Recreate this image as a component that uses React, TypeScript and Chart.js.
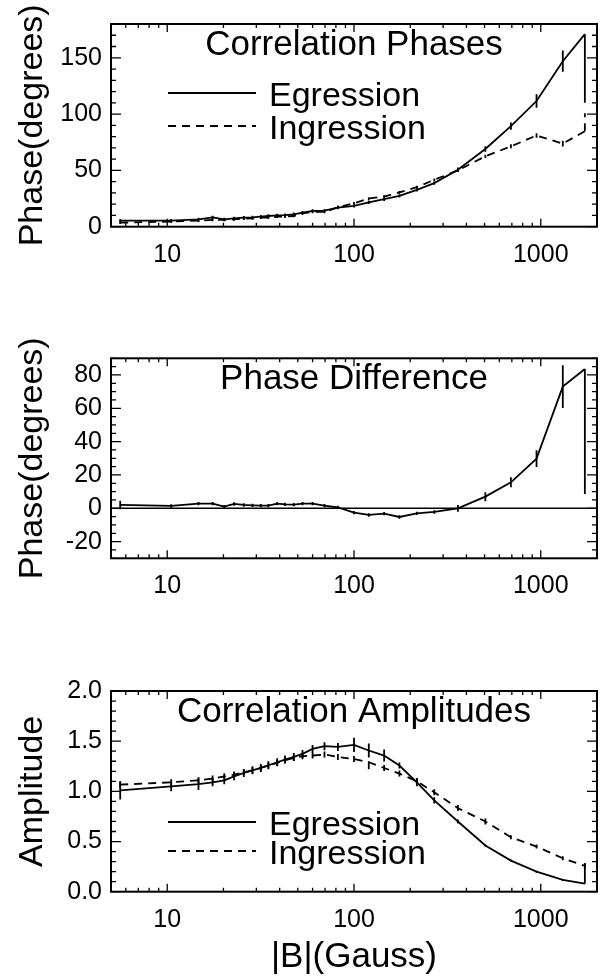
import React, { useEffect, useRef } from "react";
import { Chart, registerables } from "chart.js";

Chart.register(...registerables);

// ---------------- data ----------------
// |B| bin centres (Gauss)
const fieldStrength = [5.6, 10.5, 14.7, 17.5, 20.2, 22.8, 25.7, 28.6, 31.7, 34.8, 38.8, 42.7, 47.6, 53, 60, 69.5, 82, 100, 120, 145, 175, 217, 269, 360, 505, 692, 949, 1312, 1722];

// Correlation phases (degrees)
const phaseEgression = [5.4, 5.4, 6.5, 8.3, 6.5, 7.4, 8, 8.3, 8.9, 9.5, 10.1, 10.3, 11, 12.5, 14, 14.3, 17, 18.5, 21.7, 24.4, 27.4, 32.7, 38.7, 50.6, 69, 89.3, 111.6, 147, 171];
const phaseEgressionErrLo = [1.5, 1.5, 1.5, 1.5, 1.5, 1.5, 1.5, 1.5, 1.5, 1.5, 1.5, 1.5, 1.5, 1.5, 1.5, 1.5, 1.5, 1.5, 1.5, 1.5, 1.5, 1.5, 1.5, 2, 2.5, 3.3, 6, 9.5, 61];
const phaseEgressionErrHi = [1.5, 1.5, 1.5, 1.5, 1.5, 1.5, 1.5, 1.5, 1.5, 1.5, 1.5, 1.5, 1.5, 1.5, 1.5, 1.5, 1.5, 1.5, 1.5, 1.5, 1.5, 1.5, 1.5, 2, 2.5, 3.3, 6, 9.5, 0];
const phaseIngression = [3.6, 4.5, 5.4, 6, 6, 6.5, 7.1, 7.4, 8, 8, 8.9, 8.9, 9.5, 11.9, 13.1, 13.1, 17.3, 20.8, 25, 26.8, 30.4, 35.1, 41.7, 50, 62.5, 71.4, 81, 73.8, 84.8];
const phaseIngressionErrLo = [1.2, 1.2, 1.2, 1.2, 1.2, 1.2, 1.2, 1.2, 1.2, 1.2, 1.2, 1.2, 1.2, 1.2, 1.2, 1.2, 1.2, 1.2, 1.2, 1.2, 1.2, 1.2, 1.2, 1.2, 1.5, 1.8, 2, 2.5, 0];
const phaseIngressionErrHi = [1.2, 1.2, 1.2, 1.2, 1.2, 1.2, 1.2, 1.2, 1.2, 1.2, 1.2, 1.2, 1.2, 1.2, 1.2, 1.2, 1.2, 1.2, 1.2, 1.2, 1.2, 1.2, 1.2, 1.2, 1.5, 1.8, 2, 2.5, 16];

// Phase difference (degrees)
const phaseDifference = [2, 1.4, 2.8, 2.8, 1, 2.6, 2, 1.8, 1.6, 1.6, 2.8, 2.4, 2.2, 2.8, 2.8, 1.6, 0.6, -2.6, -4, -3.2, -5.2, -3, -2.2, 0, 7, 15.6, 29.8, 73, 83.6];
const phaseDifferenceErrLo = [2.5, 1, 1, 1, 1, 1, 1, 1, 1, 1, 1, 1, 1, 1, 1, 1, 1, 1, 1, 1, 1, 1, 1, 2, 2.7, 3, 5, 12.8, 75];
const phaseDifferenceErrHi = [2.5, 1, 1, 1, 1, 1, 1, 1, 1, 1, 1, 1, 1, 1, 1, 1, 1, 1, 1, 1, 1, 1, 1, 2, 2.7, 3, 5, 12.8, 0];

// Correlation amplitudes
const ampEgression = [1.01, 1.05, 1.073, 1.09, 1.11, 1.15, 1.183, 1.21, 1.233, 1.26, 1.29, 1.317, 1.343, 1.373, 1.423, 1.45, 1.443, 1.463, 1.407, 1.357, 1.257, 1.09, 0.91, 0.7, 0.46, 0.31, 0.2, 0.117, 0.08];
const ampEgressionErrLo = [0.09, 0.05, 0.06, 0.04, 0.04, 0.04, 0.04, 0.04, 0.04, 0.04, 0.04, 0.04, 0.04, 0.04, 0.04, 0.04, 0.04, 0.07, 0.07, 0.06, 0.03, 0.04, 0.03, 0.02, 0.01, 0.01, 0.01, 0.01, 0];
const ampEgressionErrHi = [0.09, 0.05, 0.06, 0.04, 0.04, 0.04, 0.04, 0.04, 0.04, 0.04, 0.04, 0.04, 0.04, 0.04, 0.04, 0.04, 0.04, 0.07, 0.07, 0.06, 0.03, 0.04, 0.03, 0.02, 0.01, 0.01, 0.01, 0.01, 0.2];
const ampIngression = [1.067, 1.09, 1.11, 1.127, 1.15, 1.167, 1.19, 1.21, 1.233, 1.257, 1.283, 1.31, 1.333, 1.35, 1.357, 1.367, 1.343, 1.323, 1.29, 1.233, 1.177, 1.1, 0.99, 0.833, 0.7, 0.543, 0.45, 0.333, 0.257];
const ampIngressionErr = [0.03, 0.03, 0.03, 0.03, 0.03, 0.03, 0.03, 0.03, 0.03, 0.03, 0.03, 0.03, 0.03, 0.03, 0.03, 0.03, 0.03, 0.03, 0.07, 0.03, 0.03, 0.03, 0.03, 0.03, 0.03, 0.02, 0.02, 0.02, 0.03];

// axes
const X_MIN = 5;
const X_MAX = 2000;
const xMajorTicks = [10, 100, 1000];
const phaseTicks = [0, 50, 100, 150];
const diffTicks = [-20, 0, 20, 40, 60, 80];
const ampTicks = [0, 0.5, 1, 1.5, 2];

// ---------------- layout ----------------
const W = 612;
const PLOT_LEFT = 111;
const PLOT_RIGHT = 597;
const FONT = '"Liberation Sans", Arial, Helvetica, sans-serif';
const DASH = [8, 6];

type Series = { label: string; y: number[]; lo: number[]; hi: number[]; dash: number[] };
type PanelSpec = {
  key: string;
  top: number;
  height: number;
  areaTop: number;
  areaBottom: number;
  yMin: number;
  yMax: number;
  yTicks: number[];
  yMinorStep: number;
  yDecimals: number;
  yTitle: string;
  title: string;
  xTitle?: string;
  series: Series[];
  legendY?: number[];
  zeroLine?: boolean;
};

const panels: PanelSpec[] = [
  {
    key: "phases",
    top: 0,
    height: 320,
    areaTop: 24,
    areaBottom: 226.7,
    yMin: 0,
    yMax: 180,
    yTicks: phaseTicks,
    yMinorStep: 10,
    yDecimals: 0,
    yTitle: "Phase(degrees)",
    title: "Correlation Phases",
    series: [
      { label: "Egression", y: phaseEgression, lo: phaseEgressionErrLo, hi: phaseEgressionErrHi, dash: [] },
      { label: "Ingression", y: phaseIngression, lo: phaseIngressionErrLo, hi: phaseIngressionErrHi, dash: DASH },
    ],
    legendY: [69, 102],
  },
  {
    key: "diff",
    top: 320,
    height: 320,
    areaTop: 38.3,
    areaBottom: 238.3,
    yMin: -30,
    yMax: 90,
    yTicks: diffTicks,
    yMinorStep: 5,
    yDecimals: 0,
    yTitle: "Phase(degrees)",
    title: "Phase Difference",
    series: [{ label: "Difference", y: phaseDifference, lo: phaseDifferenceErrLo, hi: phaseDifferenceErrHi, dash: [] }],
    zeroLine: true,
  },
  {
    key: "amp",
    top: 640,
    height: 340,
    areaTop: 51,
    areaBottom: 251.7,
    yMin: 0,
    yMax: 2,
    yTicks: ampTicks,
    yMinorStep: 0.1,
    yDecimals: 1,
    yTitle: "Amplitude",
    title: "Correlation Amplitudes",
    xTitle: "|B|(Gauss)",
    series: [
      { label: "Egression", y: ampEgression, lo: ampEgressionErrLo, hi: ampEgressionErrHi, dash: [] },
      { label: "Ingression", y: ampIngression, lo: ampIngressionErr, hi: ampIngressionErr, dash: DASH },
    ],
    legendY: [131, 160],
  },
];

function makeDecorations(spec: PanelSpec) {
  return {
    id: "decorations_" + spec.key,
    afterDatasetsDraw(chart: any) {
      const ctx: CanvasRenderingContext2D = chart.ctx;
      const { left, right, top, bottom } = chart.chartArea;
      const xs = chart.scales.x;
      const ys = chart.scales.y;
      ctx.save();
      ctx.strokeStyle = "#000";
      ctx.fillStyle = "#000";

      // clipped content: zero line + error bars
      ctx.save();
      ctx.beginPath();
      ctx.rect(left, top, right - left, bottom - top);
      ctx.clip();
      if (spec.zeroLine) {
        const y0 = ys.getPixelForValue(0);
        ctx.lineWidth = 1.6;
        ctx.setLineDash([]);
        ctx.beginPath();
        ctx.moveTo(left, y0);
        ctx.lineTo(right, y0);
        ctx.stroke();
      }
      spec.series.forEach((s) => {
        ctx.lineWidth = 1.8;
        ctx.setLineDash(s.dash);
        fieldStrength.forEach((b, i) => {
          const px = xs.getPixelForValue(b);
          const y1 = ys.getPixelForValue(s.y[i] - s.lo[i]);
          const y2 = ys.getPixelForValue(s.y[i] + s.hi[i]);
          if (Math.abs(y1 - y2) < 0.5) return;
          ctx.beginPath();
          ctx.moveTo(px, y1);
          ctx.lineTo(px, y2);
          ctx.stroke();
        });
      });
      ctx.restore();

      // frame
      ctx.setLineDash([]);
      ctx.lineWidth = 2;
      ctx.strokeRect(left, top, right - left, bottom - top);

      // x ticks (inward, top and bottom)
      ctx.lineWidth = 1.3;
      for (let d = 1; d <= 1000; d *= 10) {
        for (let m = 1; m <= 9; m++) {
          const v = m * d;
          if (v < X_MIN || v > X_MAX) continue;
          const px = xs.getPixelForValue(v);
          const len = m === 1 ? 8 : 4;
          ctx.beginPath();
          ctx.moveTo(px, bottom);
          ctx.lineTo(px, bottom - len);
          ctx.moveTo(px, top);
          ctx.lineTo(px, top + len);
          ctx.stroke();
        }
      }
      // y ticks (inward, left and right)
      const nSteps = Math.round((spec.yMax - spec.yMin) / spec.yMinorStep);
      for (let k = 0; k <= nSteps; k++) {
        const v = spec.yMin + k * spec.yMinorStep;
        const major = spec.yTicks.some((t) => Math.abs(t - v) < 1e-6);
        const py = ys.getPixelForValue(v);
        const len = major ? 10 : 5;
        ctx.beginPath();
        ctx.moveTo(left, py);
        ctx.lineTo(left + len, py);
        ctx.moveTo(right, py);
        ctx.lineTo(right - len, py);
        ctx.stroke();
      }

      // panel title
      ctx.textAlign = "center";
      ctx.textBaseline = "alphabetic";
      ctx.font = `35px ${FONT}`;
      ctx.fillText(spec.title, (left + right) / 2, top + 31);

      // legend
      if (spec.legendY) {
        spec.series.forEach((s, i) => {
          const ly = top + spec.legendY![i];
          ctx.lineWidth = 1.8;
          ctx.setLineDash(s.dash);
          ctx.beginPath();
          ctx.moveTo(168, ly);
          ctx.lineTo(256, ly);
          ctx.stroke();
          ctx.setLineDash([]);
          ctx.textAlign = "left";
          ctx.font = `34px ${FONT}`;
          ctx.fillText(s.label, 269, ly + 13);
        });
      }

      // y axis title
      ctx.save();
      ctx.translate(42, (top + bottom) / 2);
      ctx.rotate(-Math.PI / 2);
      ctx.textAlign = "center";
      ctx.textBaseline = "alphabetic";
      ctx.font = `34px ${FONT}`;
      ctx.fillText(spec.yTitle, 0, 0);
      ctx.restore();

      // x axis title
      if (spec.xTitle) {
        ctx.textAlign = "center";
        ctx.textBaseline = "alphabetic";
        ctx.font = `35px ${FONT}`;
        ctx.fillText(spec.xTitle, (left + right) / 2, bottom + 75);
      }
      ctx.restore();
    },
  };
}

function Panel({ spec }: { spec: PanelSpec }) {
  const ref = useRef<HTMLCanvasElement>(null);
  useEffect(() => {
    if (!ref.current) return;
    const chart = new Chart(ref.current, {
      type: "line",
      data: {
        datasets: spec.series.map((s) => ({
          label: s.label,
          data: fieldStrength.map((b, i) => ({ x: b, y: s.y[i] })),
          borderColor: "#000",
          backgroundColor: "#000",
          borderWidth: 1.8,
          borderDash: s.dash,
          pointRadius: 0,
          tension: 0,
          fill: false,
        })),
      },
      options: {
        animation: false,
        responsive: false,
        maintainAspectRatio: false,
        events: [],
        layout: { padding: { top: spec.areaTop, right: W - PLOT_RIGHT, left: 0, bottom: 0 } },
        plugins: { legend: { display: false }, tooltip: { enabled: false }, title: { display: false } },
        scales: {
          x: {
            type: "logarithmic",
            min: X_MIN,
            max: X_MAX,
            grid: { display: false, drawTicks: false },
            border: { display: false },
            afterBuildTicks: (sc: any) => {
              sc.ticks = xMajorTicks.map((v) => ({ value: v }));
            },
            afterFit: (sc: any) => {
              sc.height = spec.height - spec.areaBottom;
            },
            ticks: {
              autoSkip: false,
              maxRotation: 0,
              minRotation: 0,
              padding: 13,
              color: "#000",
              font: { family: FONT, size: 25 },
              callback: (v: any) => String(v),
            },
          },
          y: {
            type: "linear",
            min: spec.yMin,
            max: spec.yMax,
            grid: { display: false, drawTicks: false },
            border: { display: false },
            afterBuildTicks: (sc: any) => {
              sc.ticks = spec.yTicks.map((v) => ({ value: v }));
            },
            afterFit: (sc: any) => {
              sc.width = PLOT_LEFT;
            },
            ticks: {
              autoSkip: false,
              padding: 9,
              color: "#000",
              font: { family: FONT, size: 25 },
              callback: (v: any) => Number(v).toFixed(spec.yDecimals),
            },
          },
        },
      } as any,
      plugins: [makeDecorations(spec)],
    });
    return () => chart.destroy();
  }, [spec]);
  return (
    <canvas
      ref={ref}
      width={W}
      height={spec.height}
      style={{ position: "absolute", left: 0, top: spec.top, display: "block", width: W, height: spec.height }}
    />
  );
}

export default function App() {
  return (
    <div style={{ position: "absolute", left: 0, top: 0, width: W, height: 980, background: "#fff", overflow: "hidden" }}>
      {panels.map((p) => (
        <Panel key={p.key} spec={p} />
      ))}
    </div>
  );
}
